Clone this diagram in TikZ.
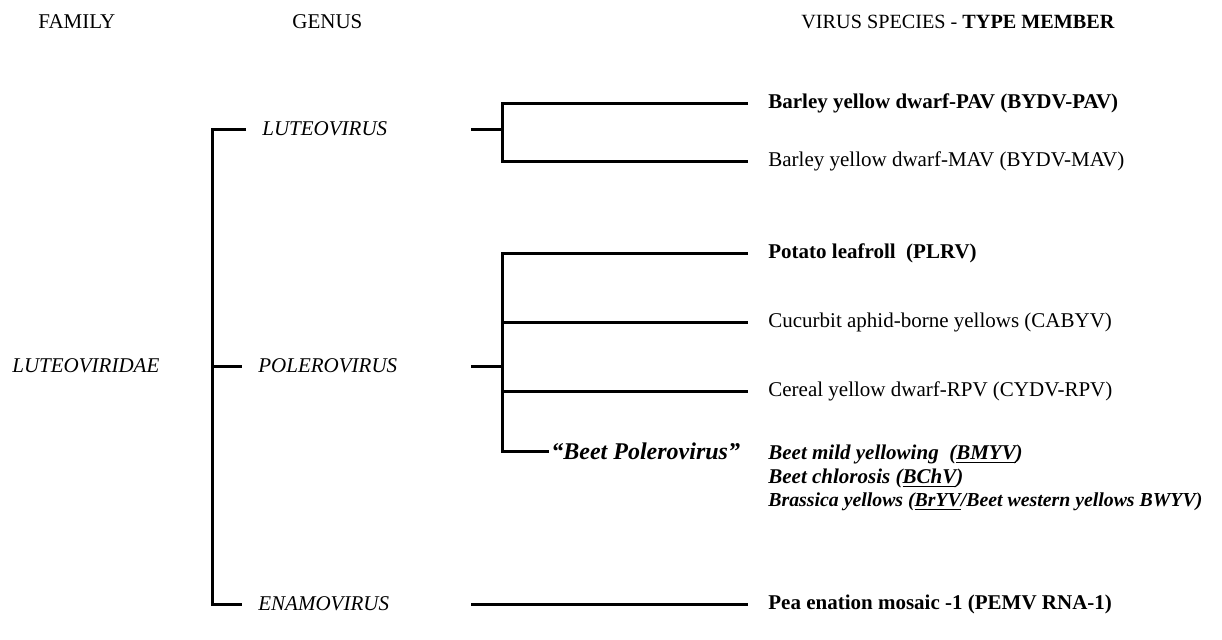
\documentclass[tikz,border=0pt]{standalone}
\usepackage{fontspec}
\setmainfont{Liberation Serif}
\usetikzlibrary{positioning}
\tikzset{
  tree/.style={line width=1.5pt},
  lbl/.style={anchor=west,inner sep=0pt,font=\fontsize{10.5}{12}\selectfont},
}
\begin{document}
\begin{tikzpicture}[x=0.5pt,y=-0.5pt]
    \useasboundingbox (0,0) rectangle (1222,639);
    % column heads
    \node[lbl] (hfam) at (38,22) {FAMILY};
    \node[lbl] (hgen) at (292,22) {GENUS};
    \node[lbl,font=\fontsize{10.1}{12}\selectfont] (hspec) at (801,22) {VIRUS SPECIES - \textbf{TYPE MEMBER}};
    % family and genera
    \node[lbl] (fam) at (12,366) {\textit{LUTEOVIRIDAE}};
    \node[lbl] (lut) at (262,129) {\textit{LUTEOVIRUS}};
    \node[lbl] (pol) at (258,366) {\textit{POLEROVIRUS}};
    \node[lbl] (ena) at (258,604) {\textit{ENAMOVIRUS}};
    \node[lbl,font=\fontsize{12}{14}\selectfont] (beet) at (551,451) {\textbf{\textit{``Beet Polerovirus''}}};
    % species
    \node[lbl] (pav) at (768,103) {\textbf{Barley yellow dwarf-PAV (BYDV-PAV)}};
    \node[lbl] (mav) at (768,161) {Barley yellow dwarf-MAV (BYDV-MAV)};
    \node[lbl] (plrv) at (768,253) {\textbf{Potato leafroll\ \ (PLRV)}};
    \node[lbl] (cabyv) at (768,322) {Cucurbit aphid-borne yellows (CABYV)};
    \node[lbl] (cydv) at (768,391) {Cereal yellow dwarf-RPV (CYDV-RPV)};
    \node[lbl] (bmyv) at (768,454) {\textbf{\textit{Beet mild yellowing\ \ (\underline{BMYV})}}};
    \node[lbl] (bchv) at (768,478) {\textbf{\textit{Beet chlorosis (\underline{BChV})}}};
    \node[lbl,font=\fontsize{9.9}{12}\selectfont] (bryv) at (768,502) {\textbf{\textit{Brassica yellows (\underline{BrYV}/Beet western yellows BWYV)}}};
    \node[lbl] (pemv) at (768,604) {\textbf{Pea enation mosaic -1 (PEMV RNA-1)}};
    % brackets
    \coordinate (fb) at (212,0);
    \coordinate (gl) at (471,0);
    \coordinate (lb) at (502,0);
    \draw[tree,shorten <=8pt,shorten >=8pt] (lut.west) -- (fb |- lut) -- (fb |- ena) -- (ena.west);
    \draw[tree,shorten >=8pt] (fb |- pol) -- (pol.west);
    \foreach \g in {lut,pol}
    \draw[tree] (gl |- \g) -- (lb |- \g);
    \draw[tree,shorten >=10pt] (gl |- ena) -- (pemv.west);
    \draw[tree,shorten <=10pt,shorten >=10pt] (pav.west) -- (lb |- pav) -- (lb |- mav) -- (mav.west);
    \draw[tree,shorten <=10pt,shorten >=1pt] (plrv.west) -- (lb |- plrv) -- (lb |- beet) -- (beet.west);
    \foreach \s in {cabyv,cydv}
    \draw[tree,shorten >=10pt] (lb |- \s) -- (\s.west);
\end{tikzpicture}
\end{document}
